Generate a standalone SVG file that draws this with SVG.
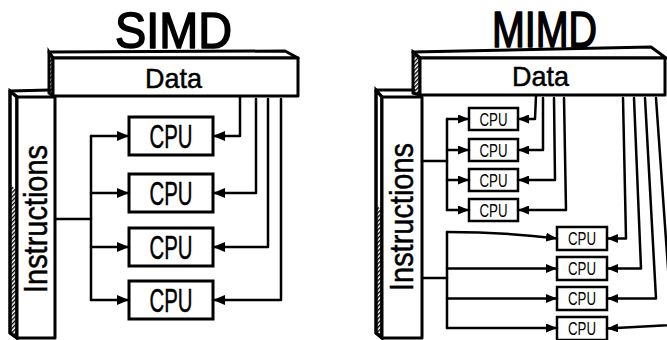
<svg xmlns="http://www.w3.org/2000/svg" width="667" height="340" viewBox="0 0 667 340">
  <defs>
    <pattern id="hatch" width="3" height="3" patternUnits="userSpaceOnUse" patternTransform="rotate(45)">
      <rect width="1.4" height="3" fill="#000"/>
    </pattern>
    <marker id="arr" markerUnits="userSpaceOnUse" markerWidth="13" markerHeight="10" refX="12" refY="5" orient="auto">
      <path d="M0,0 L12,5 L0,10 z" fill="#000"/>
    </marker>
    <marker id="arrs" markerUnits="userSpaceOnUse" markerWidth="12" markerHeight="9" refX="11" refY="4.5" orient="auto">
      <path d="M0,0 L11,4.5 L0,9 z" fill="#000"/>
    </marker>
  </defs>
  <style>
    .bar { fill: #fff; stroke: #000; stroke-width: 3; stroke-linejoin: round; }
    .edge { fill: none; stroke: #000; stroke-width: 3; stroke-linecap: round; }
    .hat { fill: url(#hatch); stroke: none; }
    .box { fill: #fff; stroke: #000; stroke-width: 3; }
    .sbox { fill: #fff; stroke: #000; stroke-width: 2.5; }
    .t { font-family: "Liberation Sans", Arial, sans-serif; fill: #000; text-anchor: middle; }
    .title { font-size: 50px; stroke: #000; stroke-width: 1.6; stroke-linejoin: round; }
    .lbl { font-size: 28px; stroke: #000; stroke-width: 0.5; }
    .cpu { font-size: 34px; stroke: #000; stroke-width: 0.5; }
    .scpu { font-size: 18px; }
    .ins { font-size: 33px; text-anchor: start; stroke: #000; stroke-width: 0.5; }
    .c { fill: none; stroke: #000; stroke-width: 2.5; stroke-linejoin: round; stroke-linecap: round; }
    .ca { marker-end: url(#arr); }
    .cs { marker-end: url(#arrs); }
  </style>
  <rect width="667" height="340" fill="#fff"/>

  <!-- ===== SIMD ===== -->
  <g id="title-simd">
    <text class="t title" x="173.5" y="48" textLength="117" lengthAdjust="spacingAndGlyphs">SIMD</text>
  </g>
  <g id="instructions-simd">
    <polygon class="bar" points="10,91 17,97 17,338 10,333"/>
    <polygon class="hat" points="10,185 17,190 17,338 10,333"/>
    <polygon class="edge" points="10,91 17,97 17,338 10,333"/>
    <path class="edge" d="M10,91 L50,90"/>
    <rect class="bar" x="17" y="97" width="38" height="241"/>
    <text class="t ins" transform="translate(47,293) rotate(-90)" x="0" y="0" textLength="148" lengthAdjust="spacingAndGlyphs">Instructions</text>
  </g>
  <g id="data-simd">
    <polygon class="bar" points="49,52 285,51 298,58 53,58"/>
    <polygon class="hat" points="49,52 53,58 53,96 49,93"/>
    <polygon class="edge" points="49,52 53,58 53,96 49,93"/>
    <rect class="bar" x="53" y="58" width="245" height="38"/>
    <text class="t lbl" x="173.5" y="88" textLength="57" lengthAdjust="spacingAndGlyphs">Data</text>
  </g>
  <g id="cpu-s1"><rect class="box" x="129" y="117" width="84" height="38"/><text class="t cpu" x="171" y="148" textLength="43" lengthAdjust="spacingAndGlyphs">CPU</text></g>
  <g id="cpu-s2"><rect class="box" x="129" y="174" width="84" height="38"/><text class="t cpu" x="171" y="205" textLength="43" lengthAdjust="spacingAndGlyphs">CPU</text></g>
  <g id="cpu-s3"><rect class="box" x="129" y="228" width="84" height="38"/><text class="t cpu" x="171" y="259" textLength="43" lengthAdjust="spacingAndGlyphs">CPU</text></g>
  <g id="cpu-s4"><rect class="box" x="129" y="281" width="84" height="38"/><text class="t cpu" x="171" y="312" textLength="43" lengthAdjust="spacingAndGlyphs">CPU</text></g>

  <!-- ===== MIMD ===== -->
  <g id="title-mimd">
    <text class="t title" x="544.5" y="47" textLength="105" lengthAdjust="spacingAndGlyphs">MIMD</text>
  </g>
  <g id="instructions-mimd">
    <polygon class="bar" points="376,90 382,97 382,338 376,333"/>
    <polygon class="hat" points="376,205 382,210 382,338 376,333"/>
    <polygon class="edge" points="376,90 382,97 382,338 376,333"/>
    <path class="edge" d="M376,90 L414,90"/>
    <rect class="bar" x="382" y="97" width="40" height="241"/>
    <text class="t ins" transform="translate(413,291) rotate(-90)" x="0" y="0" textLength="148" lengthAdjust="spacingAndGlyphs">Instructions</text>
  </g>
  <g id="data-mimd">
    <polygon class="bar" points="413,52 651,47 666,58 420,58"/>
    <polygon class="hat" points="413,52 420,58 420,95 413,93"/>
    <polygon class="edge" points="413,52 420,58 420,95 413,93"/>
    <rect class="bar" x="420" y="58" width="245" height="37"/>
    <text class="t lbl" x="540.5" y="86" textLength="57" lengthAdjust="spacingAndGlyphs">Data</text>
  </g>
  <g id="cpu-m1"><rect class="sbox" x="469" y="108" width="49" height="22"/><text class="t scpu" x="493.5" y="125.5" textLength="28" lengthAdjust="spacingAndGlyphs">CPU</text></g>
  <g id="cpu-m2"><rect class="sbox" x="469" y="139" width="49" height="22"/><text class="t scpu" x="493.5" y="156.5" textLength="28" lengthAdjust="spacingAndGlyphs">CPU</text></g>
  <g id="cpu-m3"><rect class="sbox" x="469" y="169" width="49" height="22"/><text class="t scpu" x="493.5" y="186.5" textLength="28" lengthAdjust="spacingAndGlyphs">CPU</text></g>
  <g id="cpu-m4"><rect class="sbox" x="469" y="199" width="49" height="22"/><text class="t scpu" x="493.5" y="216.5" textLength="28" lengthAdjust="spacingAndGlyphs">CPU</text></g>
  <g id="cpu-m5"><rect class="sbox" x="557" y="227" width="50" height="23"/><text class="t scpu" x="582" y="245" textLength="28" lengthAdjust="spacingAndGlyphs">CPU</text></g>
  <g id="cpu-m6"><rect class="sbox" x="557" y="257" width="50" height="23"/><text class="t scpu" x="582" y="275" textLength="28" lengthAdjust="spacingAndGlyphs">CPU</text></g>
  <g id="cpu-m7"><rect class="sbox" x="557" y="287" width="50" height="23"/><text class="t scpu" x="582" y="305" textLength="28" lengthAdjust="spacingAndGlyphs">CPU</text></g>
  <g id="cpu-m8"><rect class="sbox" x="557" y="317" width="50" height="23"/><text class="t scpu" x="582" y="335" textLength="28" lengthAdjust="spacingAndGlyphs">CPU</text></g>

  <!-- ===== Connectors ===== -->
  <g id="connectors">
    <!-- SIMD instructions -->
    <path class="c" d="M56,219 H91"/>
    <path class="c" d="M91,136 V300"/>
    <path class="c ca" d="M91,136 H129"/>
    <path class="c ca" d="M91,193 H129"/>
    <path class="c ca" d="M91,247 H129"/>
    <path class="c ca" d="M91,300 H129"/>
    <!-- SIMD data -->
    <path class="c ca" d="M240,97 V136 H213"/>
    <path class="c ca" d="M256,99 V193 H213"/>
    <path class="c ca" d="M268,99 V247 H213"/>
    <path class="c ca" d="M281,99 V300 H213"/>
    <!-- MIMD instructions group 1 -->
    <path class="c" d="M422,161 H447"/>
    <path class="c" d="M447,119 V210"/>
    <path class="c cs" d="M447,119 H469"/>
    <path class="c cs" d="M447,150 H469"/>
    <path class="c cs" d="M447,180 H469"/>
    <path class="c cs" d="M447,210 H469"/>
    <!-- MIMD data group 1 -->
    <path class="c cs" d="M536,96 L535,119 H518"/>
    <path class="c cs" d="M543,98 V150 H518"/>
    <path class="c cs" d="M554,98 L555,180 H518"/>
    <path class="c cs" d="M564,98 L566,210 H518"/>
    <!-- MIMD instructions group 2 -->
    <path class="c" d="M422,278 H447"/>
    <path class="c" d="M447,232 V328"/>
    <path class="c cs" d="M447,232 Q505,232 557,238.5"/>
    <path class="c cs" d="M447,268.5 H557"/>
    <path class="c cs" d="M447,298.5 H557"/>
    <path class="c cs" d="M447,328 H557"/>
    <!-- MIMD data group 2 -->
    <path class="c cs" d="M623,98 L626,238.5 H607"/>
    <path class="c cs" d="M634,98 L641,268.5 H607"/>
    <path class="c cs" d="M645,98 L656,298.5 H607"/>
    <path class="c cs" d="M656,98 L672,325 L607,328.5"/>
  </g>
</svg>
